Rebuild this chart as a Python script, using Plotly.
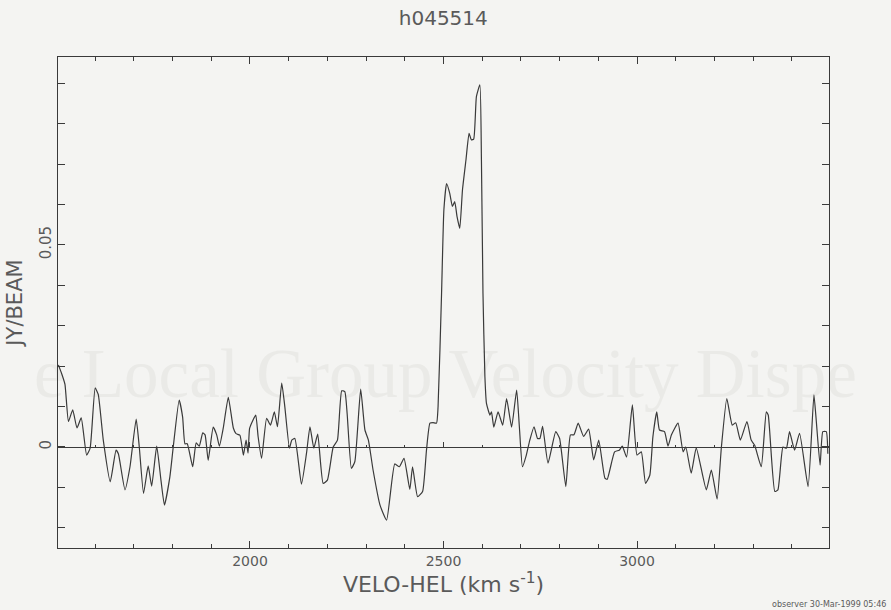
import plotly.graph_objects as go

# HI spectrum of h045514: heliocentric velocity (km/s) vs flux density (Jy/beam)
velocity = [
    1505, 1514, 1522, 1531, 1542, 1553, 1564, 1578, 1587, 1600, 1608, 1621,
    1639, 1654, 1660, 1677, 1690, 1706, 1714, 1725, 1737, 1746, 1759, 1770,
    1779, 1793, 1802, 1817, 1826, 1832, 1838, 1852, 1861, 1869, 1878, 1884,
    1892, 1905, 1914, 1921, 1931, 1944, 1957, 1964, 1974, 1983, 1990, 1995,
    1999, 2008, 2015, 2021, 2030, 2043, 2053, 2063, 2071, 2082, 2090, 2102,
    2108, 2116, 2133, 2146, 2155, 2165, 2175, 2189, 2200, 2215, 2226, 2237,
    2245, 2251, 2262, 2271, 2286, 2297, 2306, 2318, 2336, 2353, 2374, 2386,
    2398, 2413, 2420, 2433, 2446, 2456, 2465, 2473, 2482, 2486, 2495, 2501,
    2508, 2516, 2523, 2529, 2535, 2542, 2549, 2558, 2566, 2572, 2578, 2585,
    2594, 2598, 2602, 2607, 2611, 2620, 2624, 2630, 2641, 2653, 2663, 2676,
    2689, 2696, 2704, 2714, 2723, 2734, 2743, 2749, 2756, 2770, 2790, 2800,
    2816, 2828, 2837, 2848, 2862, 2875, 2888, 2901, 2917, 2923, 2942, 2954,
    2962, 2973, 2988, 3000, 3011, 3022, 3033, 3041, 3051, 3058, 3071, 3080,
    3089, 3106, 3119, 3126, 3140, 3153, 3179, 3192, 3207, 3218, 3232, 3246,
    3255, 3267, 3284, 3295, 3304, 3321, 3334, 3339, 3356, 3364, 3377, 3386,
    3394, 3407, 3420, 3442, 3457, 3463, 3473, 3480, 3489, 3493,
]
flux = [
    0.0203, 0.0180, 0.0155, 0.0063, 0.0092, 0.0047, 0.0072, -0.0020, -0.0003, 0.0146, 0.0130, 0.0017,
    -0.0086, -0.0008, -0.0017, -0.0106, -0.0049, 0.0069, 0.0000, -0.0115, -0.0047, -0.0097, 0.0002, -0.0082,
    -0.0144, -0.0074, 0.0002, 0.0116, 0.0074, 0.0008, 0.0008, -0.0049, 0.0010, 0.0002, 0.0035, 0.0030,
    -0.0033, 0.0049, 0.0030, 0.0002, 0.0047, 0.0123, 0.0047, 0.0033, 0.0029, -0.0020, 0.0017, -0.0015,
    0.0046, 0.0067, 0.0079, 0.0026, -0.0028, 0.0071, 0.0054, 0.0087, 0.0050, 0.0158, 0.0100, -0.0003,
    0.0017, 0.0021, -0.0092, -0.0016, 0.0050, -0.0003, 0.0032, -0.0090, -0.0082, 0.0000, 0.0017, 0.0139,
    0.0137, 0.0083, -0.0053, -0.0036, 0.0143, 0.0042, 0.0017, -0.0057, -0.0144, -0.0181, -0.0042, -0.0049,
    -0.0028, -0.0105, -0.0049, -0.0123, -0.0110, -0.0008, 0.0059, 0.0060, 0.0059, 0.0100, 0.0380, 0.0587,
    0.0652, 0.0628, 0.0595, 0.0607, 0.0570, 0.0541, 0.0636, 0.0710, 0.0776, 0.0760, 0.0762, 0.0867,
    0.0896, 0.0710, 0.0380, 0.0174, 0.0108, 0.0079, 0.0087, 0.0049, 0.0087, 0.0054, 0.0120, 0.0049,
    0.0141, 0.0050, -0.0049, -0.0020, 0.0017, 0.0050, 0.0021, 0.0021, 0.0051, -0.0040, 0.0038, 0.0021,
    -0.0098, 0.0030, 0.0030, 0.0059, 0.0026, 0.0044, -0.0032, 0.0017, -0.0077, -0.0080, -0.0012, -0.0008,
    0.0002, -0.0025, 0.0104, -0.0020, -0.0012, -0.0090, -0.0070, 0.0025, 0.0087, 0.0042, 0.0038, 0.0002,
    0.0030, 0.0059, -0.0012, 0.0000, -0.0065, -0.0002, -0.0106, -0.0057, -0.0129, 0.0000, 0.0120, 0.0054,
    0.0060, 0.0017, 0.0063, 0.0017, 0.0004, -0.0049, 0.0087, 0.0079, -0.0110, -0.0106, 0.0000, -0.0003,
    0.0038, -0.0008, 0.0034, -0.0098, 0.0129, 0.0066, -0.0045, 0.0038, 0.0038, -0.0017,
]

x_range = [1504, 3496]
y_range = [-0.025, 0.0965]
x_ticks = [2000, 2500, 3000]
y_ticks = [0, 0.05]
y_tick_labels = ["0", "0.05"]

title_text = "h045514"
x_title = "VELO-HEL (km s<sup>-1</sup>)"
y_title = "JY/BEAM"
footer_text = "observer 30-Mar-1999 05:46"
show_through_text = "e\u00a0Local Group Velocity Dispe"

ink = "#3a3a3a"
text_ink = "#5a5a5a"
paper = "#f4f4f2"
font_family = "DejaVu Sans, Liberation Sans, sans-serif"

fig = go.Figure()

fig.add_trace(go.Scatter(
    x=velocity, y=flux, mode="lines",
    line=dict(color=ink, width=1.2, shape="spline", smoothing=0.45),
    showlegend=False, hoverinfo="x+y",
))

# zero-flux baseline carries its own small tick marks
zero_pos = (0 - y_range[0]) / (y_range[1] - y_range[0])

axis_common = dict(
    showline=True, linecolor=ink, linewidth=1.2, mirror="allticks",
    ticks="inside", ticklen=7, tickwidth=1, tickcolor=ink,
    showgrid=False, zeroline=False,
)

fig.update_layout(
    width=891, height=610,
    margin=dict(l=58, r=62, t=57, b=62),
    paper_bgcolor=paper, plot_bgcolor="rgba(0,0,0,0)",
    title=dict(text=title_text, x=0.4975, xanchor="center", y=0.97, yanchor="middle",
               font=dict(family=font_family, size=20, color=text_ink)),
    xaxis=dict(
        range=x_range, tickvals=x_ticks, ticktext=[str(v) for v in x_ticks],
        tickfont=dict(family=font_family, size=14, color=text_ink),
        minor=dict(dtick=100, tick0=0, ticks="inside", ticklen=4, tickcolor=ink),
        title=dict(text=x_title, standoff=8,
                   font=dict(family=font_family, size=22, color=text_ink)),
        **axis_common,
    ),
    yaxis=dict(
        range=y_range, tickvals=y_ticks, ticktext=y_tick_labels, tickangle=-90,
        tickfont=dict(family=font_family, size=15, color=text_ink),
        minor=dict(dtick=0.01, tick0=0, ticks="inside", ticklen=4, tickcolor=ink),
        title=dict(text=y_title, standoff=8,
                   font=dict(family=font_family, size=21, color=text_ink)),
        **axis_common,
    ),
    xaxis2=dict(
        overlaying="x", anchor="free", position=zero_pos, side="bottom",
        range=x_range, showline=True, linecolor=ink, linewidth=1.2,
        tickvals=x_ticks, showticklabels=False, ticks="inside", ticklen=5,
        tickcolor=ink, minor=dict(dtick=100, tick0=0, ticks="inside", ticklen=2, tickcolor=ink),
        showgrid=False, zeroline=False,
    ),
    shapes=[
        # faint show-through lettering on the paper
        dict(type="rect", xref="paper", yref="paper", x0=-0.075, x1=1.08, y0=0.29, y1=0.45,
             layer="below", line=dict(width=0), fillcolor="rgba(0,0,0,0)",
             label=dict(text=show_through_text, textposition="middle center",
                        font=dict(family="Liberation Serif, serif", size=69, color="#eaeae7"))),
    ],
    annotations=[
        dict(text=footer_text, xref="paper", yref="paper", x=1.077, y=-0.115,
             xanchor="right", yanchor="middle", showarrow=False,
             font=dict(family=font_family, size=8, color=text_ink)),
    ],
)

# an invisible trace binds the baseline axis so it is drawn
fig.add_trace(go.Scatter(x=[x_range[0]], y=[0], xaxis="x2", mode="markers",
                         marker=dict(opacity=0), showlegend=False, hoverinfo="skip"))

fig.write_html("out.html")
